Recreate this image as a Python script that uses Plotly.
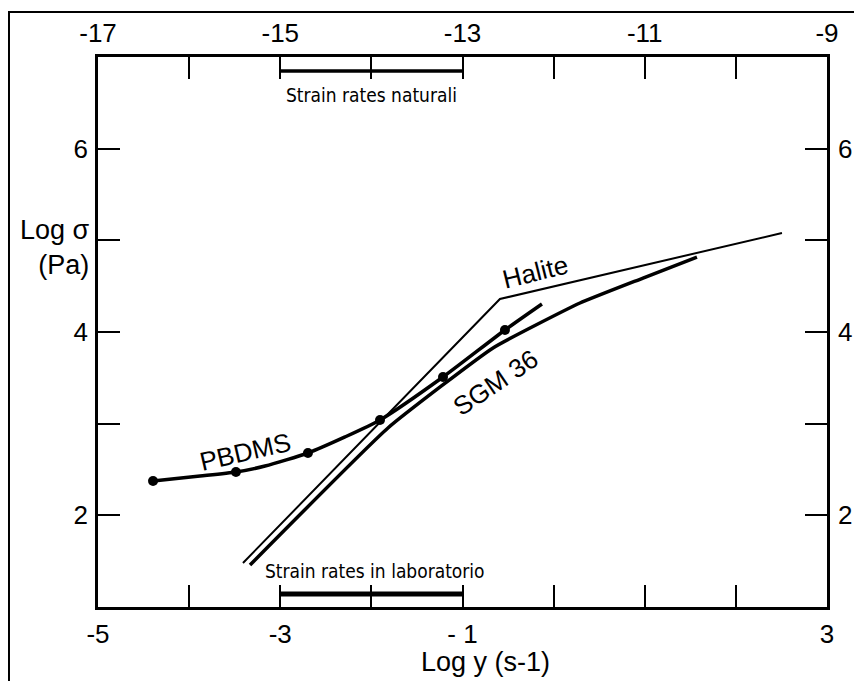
import plotly.graph_objects as go

# ---- data ----
halite_x = [-3.409, -0.589, 2.506]
halite_y = [1.480, 4.360, 5.080]

sgm_x = [-3.332, -1.818, -0.665, 0.289, 0.981, 1.573]
sgm_y = [1.458, 2.953, 3.826, 4.316, 4.589, 4.818]

pbdms_x = [-4.396, -3.881, -3.486, -3.167, -2.696, -2.289, -1.905, -1.214, -0.534, -0.128]
pbdms_y = [2.375, 2.429, 2.473, 2.538, 2.680, 2.855, 3.040, 3.509, 4.022, 4.306]

pbdms_pts_x = [-4.396, -3.486, -2.696, -1.905, -1.214, -0.534]
pbdms_pts_y = [2.375, 2.473, 2.680, 3.040, 3.509, 4.022]

natural_x = [-15, -13]      # top axis (log strain rate)
natural_y = [6.847, 6.847]
lab_x = [-3, -1]            # bottom axis
lab_y = [1.142, 1.142]

bottom_ticks = [-5, -4, -3, -2, -1, 0, 1, 2, 3]
bottom_text = ["-5", "", "-3", "", "- 1", "", "", "", "3"]
top_ticks = [-17, -16, -15, -14, -13, -12, -11, -10, -9]
top_text = ["-17", "", "-15", "", "-13", "", "-11", "", "-9"]
y_ticks = [1, 2, 3, 4, 5, 6, 7]
y_text = ["", "2", "", "4", "", "6", ""]

FONT = "Liberation Sans, Arial, sans-serif"
NARROW = "Liberation Sans Narrow, Arial Narrow, DejaVu Sans Condensed, sans-serif"

fig = go.Figure()

fig.add_trace(go.Scatter(x=halite_x, y=halite_y, mode="lines",
                         line=dict(color="black", width=2), hoverinfo="skip"))
fig.add_trace(go.Scatter(x=sgm_x, y=sgm_y, mode="lines",
                         line=dict(color="black", width=3.5, shape="spline", smoothing=0.4),
                         hoverinfo="skip"))
fig.add_trace(go.Scatter(x=pbdms_x, y=pbdms_y, mode="lines",
                         line=dict(color="black", width=3.5, shape="spline", smoothing=0.6),
                         hoverinfo="skip"))
fig.add_trace(go.Scatter(x=pbdms_pts_x, y=pbdms_pts_y, mode="markers",
                         marker=dict(color="black", size=10), hoverinfo="skip"))
fig.add_trace(go.Scatter(x=lab_x, y=lab_y, mode="lines",
                         line=dict(color="black", width=5), hoverinfo="skip"))
fig.add_trace(go.Scatter(x=natural_x, y=natural_y, mode="lines", xaxis="x2",
                         line=dict(color="black", width=3.5), hoverinfo="skip"))
fig.add_trace(go.Scatter(x=[0], y=[4], mode="markers", xaxis="x2", yaxis="y2",
                         marker=dict(opacity=0), hoverinfo="skip"))

axis_common = dict(showgrid=False, zeroline=False, showline=True, linecolor="black",
                   linewidth=2.5, ticks="inside", ticklen=22, tickwidth=2,
                   automargin=False,
                   tickcolor="black", tickfont=dict(family=FONT, size=26, color="black"))

fig.update_layout(
    width=854, height=673,
    margin=dict(l=90, r=35, t=49, b=74),
    paper_bgcolor="white", plot_bgcolor="white",
    showlegend=False,
    xaxis=dict(range=[-5, 3], tickvals=bottom_ticks, ticktext=bottom_text,
               ticklabelstandoff=2, **axis_common),
    xaxis2=dict(range=[-17, -9], tickvals=top_ticks, ticktext=top_text,
                overlaying="x", side="top", anchor="y", ticklabelstandoff=2, **axis_common),
    yaxis=dict(range=[1, 7], tickvals=y_ticks, ticktext=y_text,
               ticklabelstandoff=2, **axis_common),
    yaxis2=dict(range=[1, 7], tickvals=y_ticks, ticktext=y_text,
                overlaying="y", side="right", anchor="x", ticklabelstandoff=3, **axis_common),
)

# outer frame (left and top)
fig.add_shape(type="rect", xref="paper", yref="paper",
              x0=-0.1221, x1=1.3, y0=-0.4, y1=1.0818,
              line=dict(color="black", width=2), fillcolor="rgba(0,0,0,0)", layer="below")

ann = []
ann.append(dict(text="Log σ<br>(Pa)", xref="paper", yref="paper",
                x=(92 - 98) / 729, y=(607 - 247) / 550, xanchor="right", yanchor="middle",
                align="right", showarrow=False,
                font=dict(family=FONT, size=27, color="black")))
ann.append(dict(text="Log y (s-1)", xref="paper", yref="paper",
                x=(485 - 98) / 729, y=(607 - 662) / 550, xanchor="center", yanchor="middle",
                showarrow=False, font=dict(family=FONT, size=27, color="black")))
ann.append(dict(text="Halite", x=-0.204, y=4.655, textangle=-14, showarrow=False,
                font=dict(family=FONT, size=26, color="black")))
ann.append(dict(text="SGM 36", x=-0.643, y=3.444, textangle=-34, showarrow=False,
                font=dict(family=FONT, size=26, color="black")))
ann.append(dict(text="PBDMS", x=-3.387, y=2.691, textangle=-13, showarrow=False,
                font=dict(family=FONT, size=26, color="black")))
ann.append(dict(text="Strain rates naturali", x=-14, y=6.585, xref="x2", yref="y",
                showarrow=False, font=dict(family=NARROW, size=19, color="black")))
ann.append(dict(text="Strain rates in laboratorio", x=-1.96, y=1.393, showarrow=False,
                font=dict(family=NARROW, size=19, color="black")))
fig.update_layout(annotations=ann)

fig.write_html("out.html")
